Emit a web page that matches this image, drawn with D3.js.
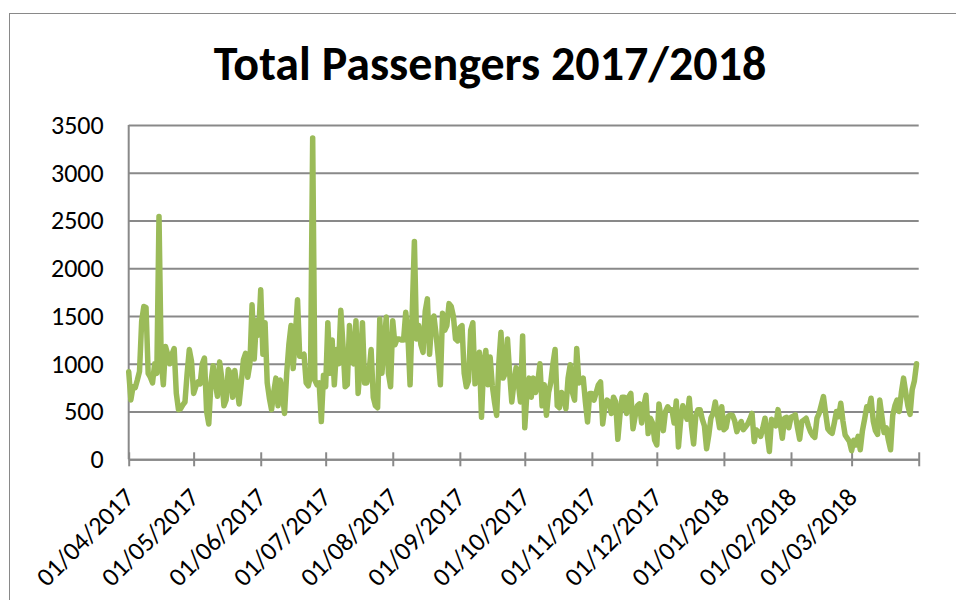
<!DOCTYPE html>
<html>
<head>
<meta charset="utf-8">
<script src="https://cdnjs.cloudflare.com/ajax/libs/d3/7.8.5/d3.min.js"></script>
<style>
  html, body { margin: 0; padding: 0; background: #fff; }
  svg { display: block; font-family: Carlito, Lato, sans-serif; }
</style>
</head>
<body>
<figure id="chart" style="margin:0"></figure>
<script>
// daily passengers, one array per month
const apr17 = [918, 622, 760, 750, 830, 920, 1450, 1600, 1590, 900, 860, 800, 1000, 900, 2543,
  1050, 780, 1180, 1100, 1000, 1100, 1160, 690, 520, 530, 570, 600, 900, 1150, 1030];
const may17 = [690, 760, 810, 790, 1000, 1060, 500, 370, 800, 980, 800, 660, 1020, 850, 560,
  620, 940, 900, 650, 930, 760, 580, 800, 1040, 1110, 860, 1000, 1617, 1050, 1450, 1300];
const jun17 = [1775, 1100, 1430, 800, 640, 520, 700, 850, 560, 830, 700, 480, 900, 1200, 1400,
  950, 1300, 1670, 1080, 1080, 1100, 800, 770, 870, 3365, 830, 780, 800, 395, 880];
const jul17 = [760, 1430, 900, 1250, 780, 1150, 1000, 1560, 1200, 760, 780, 1400, 1050, 1000, 1450,
  690, 1000, 1430, 800, 800, 900, 1150, 650, 560, 540, 1470, 900, 1200, 1490, 900, 760];
const aug17 = [1450, 1200, 1260, 1260, 1250, 1250, 1540, 1300, 780, 1540, 2281, 1260, 1400, 1200, 1120,
  1550, 1680, 1100, 1450, 1500, 1310, 1080, 780, 1530, 1350, 1400, 1630, 1600, 1500, 1260, 1240];
const sep17 = [1380, 1400, 900, 760, 820, 1350, 1430, 790, 1000, 1120, 440, 1000, 1140, 780, 1070,
  770, 600, 460, 1000, 1330, 850, 900, 1260, 900, 600, 800, 960, 800, 600, 1290];
const oct17 = [330, 700, 850, 650, 850, 700, 800, 1000, 560, 780, 460, 700, 800, 1000, 1150,
  560, 540, 700, 650, 530, 850, 990, 700, 620, 1160, 800, 820, 850, 600, 390, 690];
const nov17 = [690, 620, 700, 780, 810, 370, 550, 620, 600, 480, 650, 600, 210, 470, 650,
  650, 480, 650, 690, 320, 450, 560, 580, 380, 560, 670, 270, 430, 380, 200];
const dec17 = [150, 580, 420, 300, 500, 550, 520, 520, 380, 610, 130, 400, 560, 480, 420,
  640, 350, 160, 450, 520, 520, 420, 350, 110, 250, 430, 480, 600, 470, 330, 550];
const jan18 = [310, 330, 450, 465, 460, 400, 290, 350, 395, 310, 340, 370, 420, 480, 185,
  307, 280, 240, 330, 430, 260, 82, 420, 380, 350, 520, 380, 220, 430, 440, 330];
const feb18 = [440, 450, 465, 330, 210, 395, 410, 430, 350, 290, 250, 230, 430, 480, 570,
  657, 480, 320, 290, 272, 380, 500, 447, 587, 400, 255, 220, 185];
const mar18 = [90, 200, 150, 240, 100, 300, 420, 550, 530, 640, 400, 300, 260, 620, 450,
  280, 330, 200, 100, 460, 560, 620, 500, 700, 850, 700, 560, 470, 730, 820, 1000];

const monthLabels = ["01/04/2017", "01/05/2017", "01/06/2017", "01/07/2017", "01/08/2017", "01/09/2017",
  "01/10/2017", "01/11/2017", "01/12/2017", "01/01/2018", "01/02/2018", "01/03/2018"];
const yTicks = [0, 500, 1000, 1500, 2000, 2500, 3000, 3500];
const title = "Total Passengers 2017/2018";

const width = 956;
const height = 600;
const plot = { left: 128.7, right: 918.7, top: 125, bottom: 459.3 };
const grey = "#898989";
const lineColor = "#9bbb59";

const start = new Date(Date.UTC(2017, 3, 1));
const end = new Date(Date.UTC(2018, 3, 1));

const passengers = [].concat(apr17, may17, jun17, jul17, aug17, sep17, oct17, nov17, dec17, jan18, feb18, mar18);
const data = passengers.map((v, i) => ({ date: d3.utcDay.offset(start, i), value: v }));

const svg = d3.select("figure#chart")
  .append("svg")
  .attr("width", width)
  .attr("height", height);

// chart border (runs off the right and bottom edges)
svg.append("rect")
  .attr("x", 9.5)
  .attr("y", 13.5)
  .attr("width", 1000)
  .attr("height", 1000)
  .attr("fill", "none")
  .attr("stroke", grey)
  .attr("stroke-width", 1);

svg.append("text")
  .attr("x", 490)
  .attr("y", 80)
  .attr("text-anchor", "middle")
  .style("font-weight", "bold")
  .style("font-size", "48px")
  .text(title);

const x = d3.scaleUtc()
  .domain([start, end])
  .range([plot.left, plot.right]);

const y = d3.scaleLinear()
  .domain([0, 3500])
  .range([plot.bottom, plot.top]);

// gridlines + y labels
const yAxis = svg.append("g")
  .attr("transform", "translate(" + plot.left + ",0)")
  .call(d3.axisLeft(y).tickValues(yTicks).tickFormat(d3.format("d"))
    .tickSize(-(plot.right - plot.left)).tickPadding(25));
yAxis.select(".domain").remove();
yAxis.selectAll(".tick line").attr("stroke", grey).attr("stroke-width", 2);
yAxis.selectAll(".tick text")
  .attr("fill", "#000")
  .style("font-size", "26px")
  .style("font-family", "Carlito, Lato, sans-serif");

svg.append("line")
  .attr("x1", plot.left).attr("x2", plot.left)
  .attr("y1", plot.top).attr("y2", plot.bottom)
  .attr("stroke", grey).attr("stroke-width", 2);

// x axis with month ticks crossing the line
const monthTicks = d3.utcMonth.range(start, d3.utcDay.offset(end, 1));
const xAxis = svg.append("g")
  .attr("transform", "translate(0," + plot.bottom + ")")
  .call(d3.axisBottom(x).tickValues(monthTicks).tickSizeInner(7).tickSizeOuter(0).tickFormat(""));
xAxis.select(".domain").attr("stroke", grey).attr("stroke-width", 2);
xAxis.selectAll(".tick line").attr("stroke", grey).attr("stroke-width", 2).attr("y1", -7);

svg.append("g")
  .selectAll("text")
  .data(monthLabels)
  .enter()
  .append("text")
  .attr("transform", (d, i) => "translate(" + (x(monthTicks[i]) + 7) + ",499)rotate(-45)")
  .attr("text-anchor", "end")
  .style("font-size", "26px")
  .text(d => d);

const line = d3.line()
  .x(d => x(d.date))
  .y(d => y(d.value));

svg.append("path")
  .datum(data)
  .attr("d", line)
  .attr("fill", "none")
  .attr("stroke", lineColor)
  .attr("stroke-width", 5.5)
  .attr("stroke-linejoin", "round")
  .attr("stroke-linecap", "round");
</script>
</body>
</html>
